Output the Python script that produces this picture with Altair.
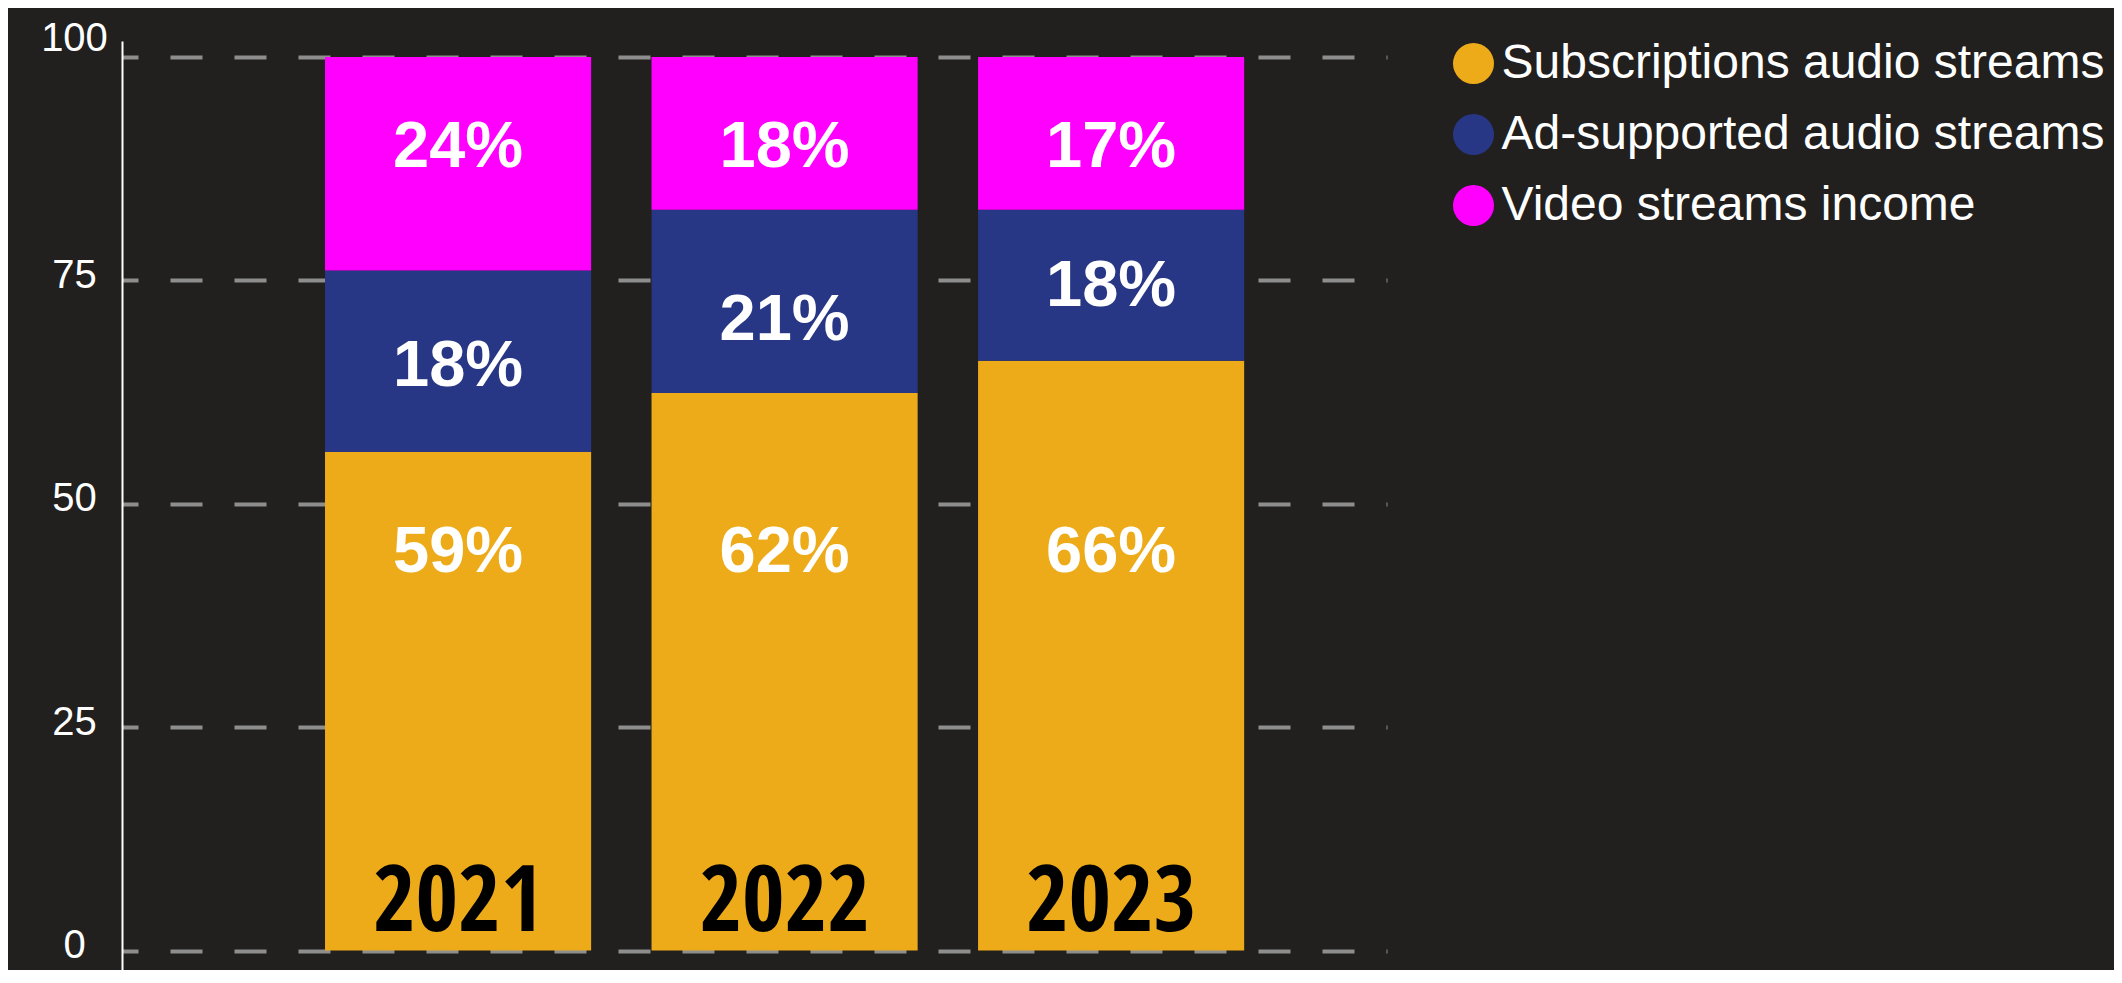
import altair as alt
import pandas as pd

years = ["2021", "2022", "2023"]
series = ["Subscriptions audio streams", "Ad-supported audio streams", "Video streams income"]
colors = ["#EDAB1A", "#283785", "#FF00FF"]

subs = [55.8, 62.4, 66.0]
ads = [20.3, 20.5, 16.9]
video = [23.9, 17.1, 17.1]

subs_lbl = ["59%", "62%", "66%"]
ads_lbl = ["18%", "21%", "18%"]
video_lbl = ["24%", "18%", "17%"]

subs_lbl_y = [45.0, 45.0, 45.0]
ads_lbl_y = [65.9, 71.0, 74.8]
video_lbl_y = [90.4, 90.4, 90.4]

y_ticks = [0, 25, 50, 75, 100]

rows = []
for i, yr in enumerate(years):
    for k, (vals, lbls, lys) in enumerate([(subs, subs_lbl, subs_lbl_y),
                                          (ads, ads_lbl, ads_lbl_y),
                                          (video, video_lbl, video_lbl_y)]):
        rows.append({"year": yr, "series": series[k], "order": k,
                     "value": vals[i], "label": lbls[i], "label_y": lys[i]})
df = pd.DataFrame(rows)
years_df = pd.DataFrame({"year": years})

x_enc = alt.X("year:N", scale=alt.Scale(domain=years, paddingInner=0.185,
                                        paddingOuter=0.5296, align=0.587), axis=None)
y_scale = alt.Scale(domain=[-2.18, 101.79], nice=False, zero=False)

bars = alt.Chart(df).mark_bar().encode(
    x=x_enc,
    y=alt.Y("value:Q", stack="zero", scale=y_scale, title=None,
            axis=alt.Axis(values=y_ticks, grid=True, gridColor="#8e8e8e", gridWidth=4,
                          gridDash=[32, 32], gridDashOffset=16, ticks=False,
                          domain=True, domainColor="white", domainWidth=2,
                          labelColor="white", labelFont="Liberation Sans", labelFontSize=40,
                          labelAlign="center", labelPadding=48,
                          labelOffset={"condition": {"test": "datum.value === 100", "value": -18},
                                       "value": -5})),
    color=alt.Color("series:N", scale=alt.Scale(domain=series, range=colors),
                    legend=alt.Legend(title=None, orient="none", legendX=1327.5, legendY=-1.5,
                                      symbolType="circle", symbolSize=1681, symbolStrokeWidth=0,
                                      symbolOpacity=1, labelFontSize=48, labelFont="Liberation Sans",
                                      labelColor="white", labelOffset=4, rowPadding=23,
                                      padding=0, labelLimit=0)),
    order=alt.Order("order:Q"),
)

pct = alt.Chart(df).mark_text(font="Liberation Sans", fontSize=65, fontWeight="bold",
                              color="white", baseline="middle", align="center", dy=4).encode(
    x=x_enc,
    y=alt.Y("label_y:Q", scale=y_scale),
    text="label:N",
)

yr_txt = alt.Chart(years_df).mark_text(
    font="Noto Sans ExtraCondensed, Noto Sans Condensed, Open Sans Condensed, DejaVu Sans Condensed",
    fontSize=92, fontWeight="bold", color="black", baseline="alphabetic", align="center",
    dy=-20).encode(
    x=x_enc,
    y=alt.datum(0, scale=y_scale),
    text="year:N",
)

chart = alt.layer(bars, pct, yr_txt).properties(
    width=1265, height=929,
    autosize=alt.AutoSizeParams(type="none"),
    padding={"left": 114, "top": 33, "right": 727, "bottom": 0},
    background="#21201f",
).configure_view(stroke=None)

chart.save("out.html", embed_options={"renderer": "svg", "actions": False})
